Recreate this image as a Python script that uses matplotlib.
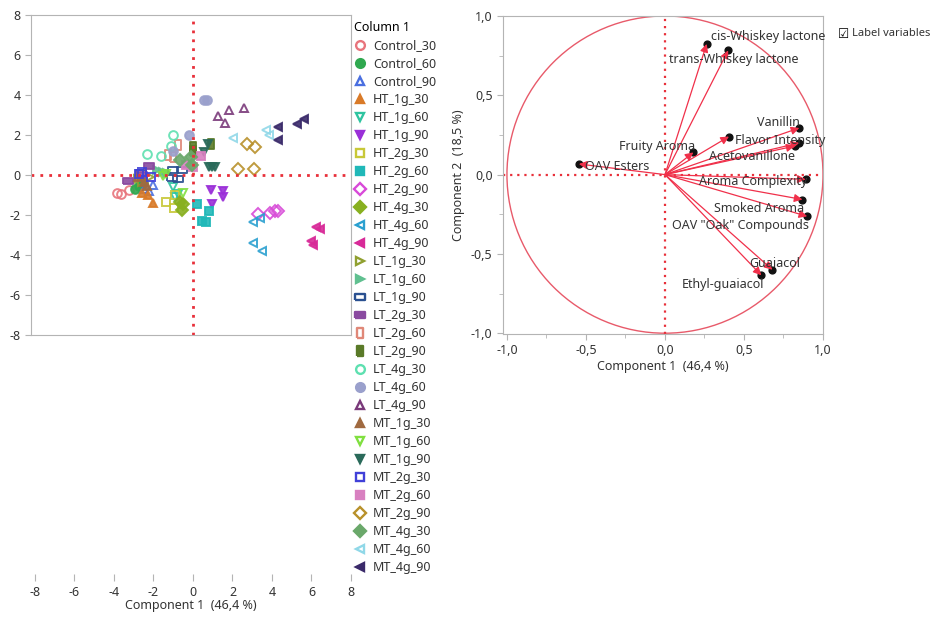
import matplotlib
matplotlib.use("Agg")
import matplotlib.pyplot as plt
from matplotlib.ticker import FuncFormatter, MultipleLocator
from matplotlib.lines import Line2D
from matplotlib.patches import Circle

plt.rcParams["font.family"] = ["Noto Sans", "DejaVu Sans"]
plt.rcParams["font.size"] = 9
plt.rcParams["axes.unicode_minus"] = False

# ---- score plot data (Component 1, Component 2) ----
groups = [
    "Control_30", "Control_60", "Control_90",
    "HT_1g_30", "HT_1g_60", "HT_1g_90",
    "HT_2g_30", "HT_2g_60", "HT_2g_90",
    "HT_4g_30", "HT_4g_60", "HT_4g_90",
    "LT_1g_30", "LT_1g_60", "LT_1g_90",
    "LT_2g_30", "LT_2g_60", "LT_2g_90",
    "LT_4g_30", "LT_4g_60", "LT_4g_90",
    "MT_1g_30", "MT_1g_60", "MT_1g_90",
    "MT_2g_30", "MT_2g_60", "MT_2g_90",
    "MT_4g_30", "MT_4g_60", "MT_4g_90",
]
score_x = [
    [-3.85, -3.65, -3.22], [-2.95, -2.75, -2.55], [-2.5, -2.25, -2.0],
    [-2.6, -2.3, -2.0], [-0.99, -0.91, -0.75], [0.92, 0.97, 1.5, 1.5],
    [-1.35, -0.97, -0.93], [0.19, 0.82, 0.44, 0.64], [3.30, 3.89, 4.14, 4.31],
    [-0.66, -0.57, -0.5], [3.05, 3.38, 3.05, 3.47], [6.25, 6.41, 5.99, 6.08],
    [-2.76, -2.6, -2.2], [-1.83, -1.5, -1.3], [-0.99, -0.57, -0.74, -1.08, -2.65],
    [-2.21, -3.3, -2.6], [-0.74, -1.24, -0.99], [-0.02, 0.02, 0.9],
    [-0.99, -1.13, -1.6, -2.31], [0.55, 0.7, -0.2, -1.0], [1.28, 1.83, 1.62, 2.59],
    [-2.8, -2.5, -2.35], [-1.5, -0.49, -1.35], [0.56, 0.77, 0.8, 0.95, 1.1],
    [-2.6, -2.1, -2.75], [0.4, -0.37, 0.02], [2.76, 3.13, 2.26, 3.10],
    [-0.66, -0.12, -0.07], [2.04, 3.72, 3.85], [4.31, 4.31, 5.29, 5.62],
]
score_y = [
    [-0.91, -0.94, -0.73], [-0.68, -0.55, -0.4], [-0.72, -0.78, -0.5],
    [-0.9, -1.0, -1.38], [-0.61, -1.1, -0.95], [-0.74, -1.45, -0.81, -1.11],
    [-1.36, -1.63, -1.0], [-1.44, -1.78, -2.28, -2.37], [-1.95, -1.9, -1.8, -1.78],
    [-1.36, -1.75, -1.44], [-2.37, -2.15, -3.42, -3.82], [-2.62, -2.7, -3.28, -3.49],
    [-0.19, -0.36, -0.1], [0.23, 0.14, 0.1], [0.26, 0.23, -0.19, -0.14, 0.1],
    [0.44, -0.28, 0.0], [1.48, 0.98, 0.89], [1.39, 1.2, 1.53],
    [1.98, 1.44, 0.93, 1.06], [3.74, 3.74, 1.98, 1.2], [2.93, 3.27, 2.6, 3.37],
    [-0.1, -0.36, -0.55], [-0.03, -0.91, 0.05], [1.14, 1.53, 0.39, 0.39, 0.39],
    [0.14, -0.08, 0.05], [0.93, 0.48, 0.39], [1.53, 1.39, 0.31, 0.31],
    [0.73, 0.89, 0.48], [1.87, 2.27, 1.98], [2.40, 1.77, 2.57, 2.82],
]

# ---- loading plot data ----
variables = [
    "cis-Whiskey lactone", "trans-Whiskey lactone", "Vanillin", "Flavor Intensity",
    "Acetovanillone", "", "Fruity Aroma", "OAV Esters", "Aroma Complexity",
    "Smoked Aroma", 'OAV "Oak" Compounds', "Guaiacol", "Ethyl-guaiacol",
]
load_x = [0.264, 0.40, 0.85, 0.405, 0.85, 0.82, 0.18, -0.545, 0.89, 0.87, 0.90, 0.68, 0.61]
load_y = [0.824, 0.783, 0.294, 0.24, 0.20, 0.18, 0.14, 0.067, -0.03, -0.157, -0.263, -0.60, -0.635]

# ---- styles ----
WIDE = [(-1, -0.5), (1, -0.5), (1, 0.5), (-1, 0.5), (-1, -0.5)]
TALL = [(-0.5, -1), (0.5, -1), (0.5, 1), (-0.5, 1), (-0.5, -1)]
styles = [
    ("o", False, "#e8747c"), ("o", True, "#2fa84f"), ("^", False, "#4a6fe0"),
    ("^", True, "#d97a28"), ("v", False, "#2ec4a0"), ("v", True, "#9a2fd8"),
    ("s", False, "#c8c838"), ("s", True, "#20b8b8"), ("D", False, "#d84ad8"),
    ("D", True, "#88b020"), ("<", False, "#2aa0d0"), ("<", True, "#d82a98"),
    (">", False, "#90a030"), (">", True, "#60c090"), (WIDE, False, "#2a5090"),
    (WIDE, True, "#8a4aa0"), (TALL, False, "#e08878"), (TALL, True, "#5a7a28"),
    ("o", False, "#5ee0b0"), ("o", True, "#9aa0cc"), ("^", False, "#7a3a7a"),
    ("^", True, "#a06a40"), ("v", False, "#80e040"), ("v", True, "#2a6a5a"),
    ("s", False, "#4040d8"), ("s", True, "#d880c0"), ("D", False, "#b8902a"),
    ("D", True, "#6aa86a"), ("<", False, "#90d8e8"), ("<", True, "#3a2a6a"),
]
label_offsets = [  # pixel offsets of label (left, centre) from point
    (4, -7), (-59, 9), (-42, -5), (6, 4), (-90, 14), (0, 0), (-74, -6),
    (6, 3), (-107, 2), (-88, 9), (-135, 9), (-23, -6), (-80, 9),
]

RED = "#e8303a"
GREY = "#b4b4b4"
TXT = "#333333"
W, H = 938, 617

fig = plt.figure(figsize=(W / 100, H / 100), dpi=100)


def px_rect(x0, y0, x1, y1):
    return [x0 / W, 1 - y1 / H, (x1 - x0) / W, (y1 - y0) / H]


def style_axes(ax):
    for s in ax.spines.values():
        s.set_color(GREY)
    ax.tick_params(colors=GREY, labelcolor=TXT, length=4)


# ---- left: score plot ----
ax1 = fig.add_axes(px_rect(31, 15, 351, 335))
style_axes(ax1)
handles = []
for i, name in enumerate(groups):
    m, filled, c = styles[i]
    ms = 7.5 if m in (WIDE, TALL) else 6.3
    ax1.plot(score_x[i], score_y[i], linestyle="none", marker=m, markersize=ms,
             markerfacecolor=c if filled else "none", markeredgecolor=c,
             markeredgewidth=1.4, alpha=0.9)
    handles.append(Line2D([], [], linestyle="none", marker=m, markersize=ms,
                          markerfacecolor=c if filled else "none",
                          markeredgecolor=c, markeredgewidth=1.7))
ax1.axhline(0, color=RED, lw=2, ls=(0, (1, 2.2)))
ax1.axvline(0, color=RED, lw=2, ls=(0, (1, 2.2)))
ax1.set_xlim(-8.2, 8.0)
ax1.set_ylim(-8, 8)
ax1.set_yticks(range(-8, 9, 2))
ax1.set_xticks(range(-8, 9, 2))
ax1.tick_params(axis="x", bottom=False, labelbottom=False)

sec = ax1.secondary_xaxis(-0.77)
sec.spines["bottom"].set_visible(False)
sec.set_xticks(range(-8, 9, 2))
sec.tick_params(direction="in", length=5, colors=GREY, labelcolor=TXT, pad=3)
for t in sec.xaxis.get_ticklines():
    if abs(t.get_xdata()[0]) < 1e-9:
        t.set_color(RED)
sec.set_xlabel("Component 1  (46,4 %)", color=TXT, labelpad=0)

leg = fig.legend(handles, groups, loc="upper left",
                 bbox_to_anchor=(354 / W, 1 - 21 / H), frameon=False,
                 title="Column 1", alignment="left", handlelength=1.0,
                 handletextpad=0.5, labelspacing=0.40, borderpad=0,
                 borderaxespad=0)
leg.get_title().set_fontweight("bold")
for t in leg.get_texts():
    t.set_color(TXT)

# ---- right: loading plot ----
ax2 = fig.add_axes(px_rect(503, 16, 823, 334))
style_axes(ax2)
ax2.set_xlim(-1.025, 1.0)
ax2.set_ylim(-1.005, 1.0)
ax2.add_patch(Circle((0, 0), 1.0, fill=False, color="#e85a6a", lw=1))
ax2.axhline(0, color=RED, lw=1.6, ls=(0, (1, 2.2)))
ax2.axvline(0, color=RED, lw=1.6, ls=(0, (1, 2.2)))
ax2.scatter(load_x, load_y, s=24, color="#111111", zorder=3)
for i, name in enumerate(variables):
    ax2.annotate("", xy=(load_x[i], load_y[i]), xytext=(0, 0),
                 arrowprops=dict(arrowstyle="-|>", color="#f0304a", lw=0.9,
                                 mutation_scale=12, shrinkA=0, shrinkB=0),
                 zorder=4)
    if name:
        dx, dy = label_offsets[i]
        ax2.annotate(name, xy=(load_x[i], load_y[i]),
                     xytext=(dx * 0.72, -dy * 0.72), textcoords="offset points",
                     ha="left", va="center", color=TXT, zorder=5)

comma = FuncFormatter(lambda v, p: f"{v:.1f}".replace(".", ","))
ax2.xaxis.set_major_locator(MultipleLocator(0.5))
ax2.yaxis.set_major_locator(MultipleLocator(0.5))
ax2.xaxis.set_minor_locator(MultipleLocator(0.25))
ax2.yaxis.set_minor_locator(MultipleLocator(0.25))
ax2.xaxis.set_major_formatter(comma)
ax2.yaxis.set_major_formatter(comma)
ax2.tick_params(which="minor", length=3, colors=GREY)
ax2.set_xlabel("Component 1  (46,4 %)", color=TXT, labelpad=2)
ax2.set_ylabel("Component 2  (18,5 %)", color=TXT, labelpad=4)

fig.text(838 / W, 1 - 34 / H, "\u2611", fontsize=9, va="center", ha="left",
         family="DejaVu Sans")
fig.text(852 / W, 1 - 34 / H, "Label variables", fontsize=8, va="center",
         ha="left", color=TXT)

fig.savefig("out.png", dpi=100)
